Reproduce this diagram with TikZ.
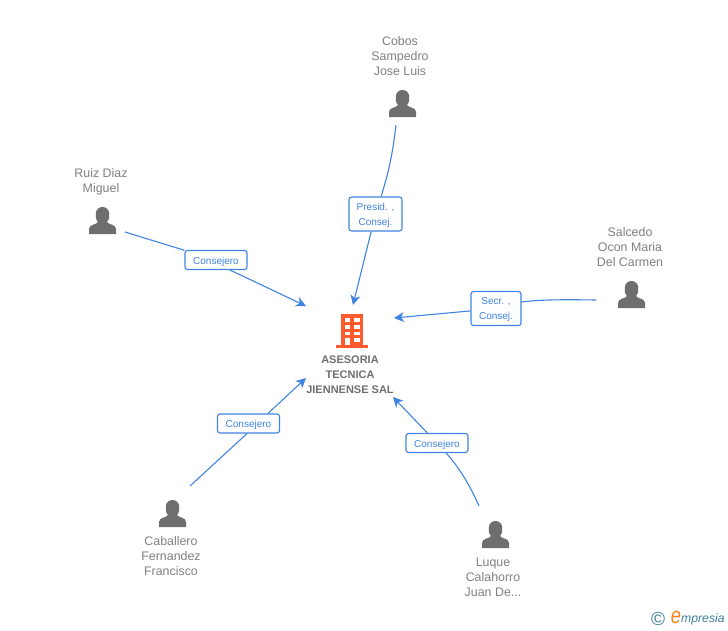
\documentclass[tikz,border=0pt]{standalone}
\usepackage{fontspec}
\setmainfont{Liberation Sans}
\usetikzlibrary{arrows.meta}
\definecolor{linkblue}{HTML}{3F84E0}
\definecolor{namegray}{HTML}{7F7F7F}
\definecolor{icongray}{HTML}{6E6E6E}
\definecolor{firmorange}{HTML}{FF5A2B}
\definecolor{logoteal}{HTML}{3C7E99}
\definecolor{logoorange}{HTML}{F58220}
\newcommand{\rolerow}[1]{\raisebox{-1.5pt}[\height][\depth]{#1}}
\tikzset{
    namelabel/.style={text=namegray,font=\fontsize{12.4}{15}\selectfont,align=center,inner sep=0pt},
    firmlabel/.style={text=icongray,font=\fontsize{11}{15}\selectfont\bfseries,align=center,inner sep=0pt},
    rolebox/.style={draw=linkblue,fill=white,rounded corners=2.5pt,line width=1.1pt,text=linkblue,
        font=\fontsize{10}{15}\selectfont,align=center,inner sep=0pt},
    link/.style={draw=linkblue,line width=1.1pt},
    linkarrow/.style={link,-{Stealth[length=10pt,width=10pt,inset=3pt]}},
    personicon/.pic={
        \fill[icongray] (-13.5,0) -- (-13.5,-5) .. controls (-13.5,-10) and (-6,-9) .. (-4.5,-12)
            .. controls (-8.5,-16) and (-8,-27) .. (0,-27) .. controls (8,-27) and (8.5,-16) .. (4.5,-12)
            .. controls (6,-9) and (13.5,-10) .. (13.5,-5) -- (13.5,0) -- cycle;
    }
}
\begin{document}
\begin{tikzpicture}[x=1pt,y=-1pt]
\useasboundingbox (0,0) rectangle (728,630);

% people
\foreach \px/\py in {402.5/117,102.5/234,631.5/308,172.5/527,495.5/548} {
    \pic at (\px,\py) {personicon};
}
\node[namelabel] (cobos) at (400,56) {Cobos\\Sampedro\\Jose Luis};
\node[namelabel] (ruiz) at (101,182) {Ruiz Diaz\\Miguel};
\node[namelabel] (salcedo) at (630,247) {Salcedo\\Ocon Maria\\Del Carmen};
\node[namelabel] (caballero) at (171,556) {Caballero\\Fernandez\\Francisco};
\node[namelabel] (luque) at (493,577) {Luque\\Calahorro\\Juan De...};

% company
\fill[firmorange] (341,314) rectangle (363,345);
\fill[firmorange] (336,345) rectangle (368,347.5);
\foreach \wy in {318,325,331.5} {
    \fill[white] (344.5,\wy) rectangle (349.5,\wy+3.8);
    \fill[white] (354,\wy) rectangle (359.5,\wy+3.8);
}
\fill[white] (344.5,338) rectangle (349.5,345);
\fill[white] (354,338) rectangle (359.5,342);
\node[firmlabel] (firm) at (350,374.5) {ASESORIA\\TECNICA\\JIENNENSE SAL};

% free ends
\coordinate (cobosEnd) at (396,125);
\coordinate (ruizEnd) at (125,232);
\coordinate (salcedoEnd) at (596,300);
\coordinate (caballeroEnd) at (190,486);
\coordinate (luqueEnd) at (479,506);
\coordinate (firmTop) at (353,305);
\coordinate (firmLeft) at (306,306);
\coordinate (firmRight) at (394,318);
\coordinate (firmLow) at (306,378);
\coordinate (firmLowRight) at (393,397);

% connectors
\node[rolebox,minimum width=53pt,minimum height=34pt] (presid) at (375.5,214) {\rolerow{Presid. ,}\\\rolerow{Consej.}};
\node[rolebox,minimum width=62pt,minimum height=19pt] (consejA) at (216,260) {\rolerow{Consejero}};
\node[rolebox,minimum width=50pt,minimum height=34pt] (secr) at (496,308.5) {\rolerow{Secr. ,}\\\rolerow{Consej.}};
\node[rolebox,minimum width=62pt,minimum height=19pt] (consejB) at (248.5,423.5) {\rolerow{Consejero}};
\node[rolebox,minimum width=62pt,minimum height=19pt] (consejC) at (437,443) {\rolerow{Consejero}};

\draw[link] (cobosEnd) to[bend left=5] (presid);
\draw[linkarrow] (presid) -- (firmTop);
\draw[link] (ruizEnd) -- (consejA);
\draw[linkarrow] ([xshift=14pt]consejA.south) -- (firmLeft);
\draw[link] (salcedoEnd) .. controls (565,299.5) and (540,299.5) .. ([yshift=6.5pt]secr.east);
\draw[linkarrow] (secr) -- (firmRight);
\draw[link] (caballeroEnd) -- ([xshift=-1.5pt]consejB.south);
\draw[linkarrow] ([xshift=19.5pt]consejB.north) -- (firmLow);
\draw[link] (luqueEnd) .. controls (470,485) and (458,466) .. (consejC);
\draw[linkarrow] (consejC) -- (firmLowRight);

% logo
\node[text=logoteal,font=\fontsize{19}{19}\selectfont,inner sep=0pt] (copyr) at (658,619) {©};
\node[text=logoorange,font=\fontsize{23}{23}\selectfont\itshape,inner sep=0pt,xscale=.8] (logoE) at (676,617) {e};
\node[text=logoteal,font=\fontsize{12.2}{12}\selectfont\itshape,inner sep=0pt,anchor=west] (logoText) at (681,619) {mpresia};
\end{tikzpicture}
\end{document}
